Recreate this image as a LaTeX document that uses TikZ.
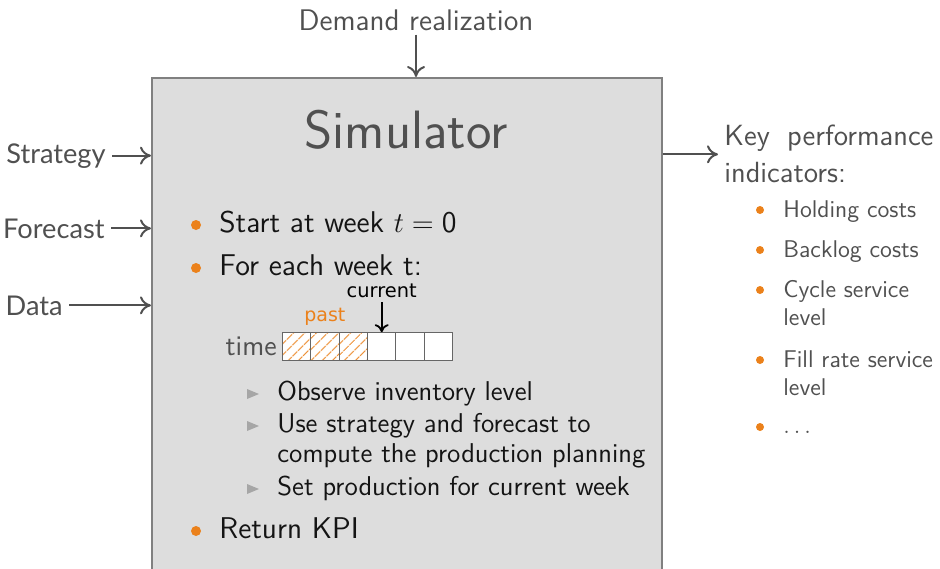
\documentclass[tikz,border=0pt]{standalone}
\usepackage{fontspec}
\usepackage{amsmath}
\usetikzlibrary{calc,arrows.meta,patterns.meta}
\newfontfamily\latofont{Lato}
\newfontfamily\dejavufont{DejaVu Sans}
\definecolor{simorange}{HTML}{EB811B}
\definecolor{labelgray}{HTML}{505050}
\definecolor{simfill}{HTML}{DDDDDD}
\definecolor{simline}{HTML}{808080}
\tikzset{
  flow/.style={-{To[length=5.5pt,width=9pt]}, line width=1pt, draw=labelgray},
  inlabel/.style={text=labelgray, font=\latofont\fontsize{13.6}{17}\selectfont},
  outlabel/.style={text=labelgray, font=\sffamily\fontsize{14.9}{17}\selectfont},
  mainitem/.style={text=black!92, font=\sffamily\fontsize{15}{18}\selectfont, anchor=base west},
  subitem/.style={text=black!92, font=\sffamily\fontsize{13.6}{15.2}\selectfont, align=left},
  kpiitem/.style={text=labelgray, font=\sffamily\fontsize{12.1}{14}\selectfont, align=left},
  bigdot/.style={circle, fill=simorange, minimum size=5pt},
  smalldot/.style={circle, fill=simorange, minimum size=4pt},
  week/.style={draw=black!60, line width=0.5pt, fill=white, minimum width=14.2pt, minimum height=14pt},
  pastweek/.style={week, preaction={fill=white}, pattern={Lines[angle=45,distance=4pt,line width=0.5pt]}, pattern color=simorange},
  subbullet/.pic={\fill[black!35] (-6,-5) -- (6,0) -- (-6,5) -- cycle;}
}
\begin{document}
\begin{tikzpicture}[x=0.5pt,y=-0.5pt,every node/.style={inner sep=0pt}]
  \clip (0,0) rectangle (940,568);

  \node[draw=simline, fill=simfill, line width=0.8pt, minimum width=255pt, minimum height=270pt, anchor=north west] (sim) at (151,77) {};
  \node[anchor=base, text=labelgray, font=\sffamily\fontsize{27}{32}\selectfont] (title) at (406,148) {Simulator};

  % inputs
  \node[outlabel, anchor=base] (demand) at (416,30) {Demand realization};
  \draw[flow] ([yshift=-2pt]demand.south) -- (demand.south |- sim.north);
  \node[inlabel, anchor=base east] (strategy) at (106,163) {Strategy};
  \node[inlabel, anchor=base east] (forecast) at (105,238) {Forecast};
  \node[inlabel, anchor=base east] (data) at (63,315) {Data};
  \foreach \src in {strategy,forecast,data}
    \draw[flow] ([xshift=3pt]\src.east) -- (\src.east -| sim.west);

  % output
  \node[outlabel, font=\sffamily\fontsize{14.6}{18.5}\selectfont, text width=104.5pt, align=justify, anchor=north west] (kpi) at (724,125) {Key performance indicators:};
  \draw[flow] (sim.east |- kpi.west) -- ([xshift=-3pt]kpi.west);
  \node[kpiitem, anchor=north west] (kpi1) at (783,200) {Holding costs};
  \node[kpiitem, anchor=north west] (kpi2) at (783,240) {Backlog costs};
  \node[kpiitem, anchor=north west] (kpi3) at (783,280) {Cycle service\\level};
  \node[kpiitem, anchor=north west] (kpi4) at (783,350) {Fill rate service\\level};
  \node[kpiitem, anchor=base west] (kpi5) at (783,433) {$\ldots$};
  \foreach \y in {210,250,290,360,427}
    \node[smalldot] at (760,\y) {};

  % simulation loop
  \node[mainitem] (start) at (219,232) {Start at week $t = \mathsf{0}$};
  \node[mainitem] (loop) at (219,275) {For each week t:};
  \node[mainitem] (ret) at (219,538) {Return KPI};
  \foreach \y in {225,268,531}
    \node[bigdot] at (196,\y) {};

  \node[text=labelgray, font=\sffamily\fontsize{14.2}{17}\selectfont, anchor=base east] (time) at (277,355) {time};
  \foreach \i in {1,2,3}
    \node[pastweek] (cell\i) at ({268.1+28.4*\i},346.7) {};
  \foreach \i in {4,5,6}
    \node[week] (cell\i) at ({268.1+28.4*\i},346.7) {};
  \node[anchor=base, text=simorange, font=\dejavufont\fontsize{9.5}{11}\selectfont] (past) at ([yshift=5.3pt]cell2.north) {past};
  \node[anchor=base, font=\dejavufont\fontsize{9.7}{11}\selectfont] (current) at ([yshift=17.3pt]cell4.north) {current};
  \draw[-{To[length=4pt,width=7pt]}, line width=0.9pt] ([yshift=-2pt]current.south) -- (cell4.north);

  \node[subitem, anchor=base west] (observe) at (277,400) {Observe inventory level};
  \node[subitem, anchor=north west] (plan) at (277,413) {Use strategy and forecast to\\compute the production planning};
  \node[subitem, anchor=base west] (produce) at (277,495) {Set production for current week};
  \foreach \y in {394,426,489}
    \pic at (253,\y) {subbullet};
\end{tikzpicture}
\end{document}
